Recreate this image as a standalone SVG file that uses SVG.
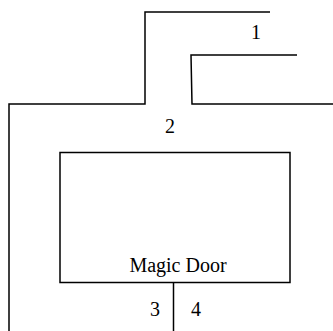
<svg xmlns="http://www.w3.org/2000/svg" width="333" height="331" viewBox="0 0 333 331">
<style>
.w{fill:none;stroke:#000;stroke-width:1.5}
.t{font-family:"Liberation Serif","Times New Roman",serif;font-size:20px;fill:#000;text-anchor:middle}
</style>
<rect width="333" height="331" fill="#fff"/>
<g id="walls">
<path class="w" d="M9,331 V104 H145 V12 H270"/>
<path class="w" d="M297,55 H191 L192,104 H333"/>
</g>
<g id="room">
<rect class="w" x="60" y="152.5" width="230" height="130"/>
<text class="t" x="178" y="272">Magic Door</text>
</g>
<g id="connectors">
<line class="w" x1="173.5" y1="282.5" x2="173.5" y2="331"/>
</g>
<g id="labels">
<text class="t" x="256" y="39">1</text>
<text class="t" x="170" y="133">2</text>
<text class="t" x="155" y="316">3</text>
<text class="t" x="196" y="316">4</text>
</g>
</svg>
